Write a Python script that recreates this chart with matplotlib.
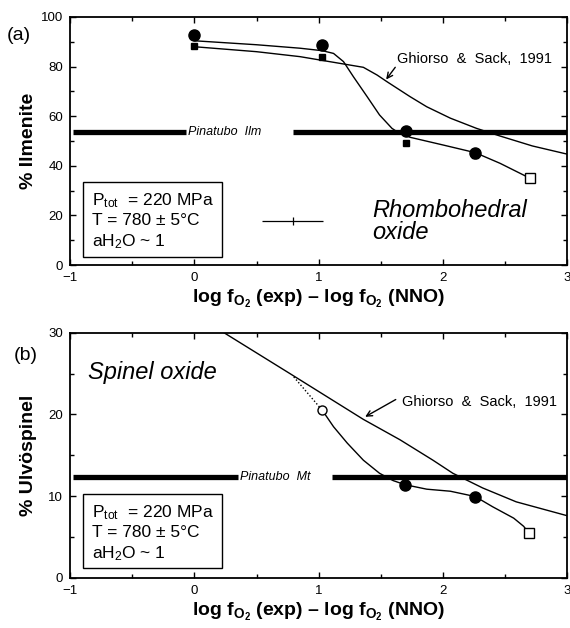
import matplotlib
matplotlib.use("Agg")
import matplotlib.pyplot as plt
from matplotlib.patches import Rectangle
from matplotlib.ticker import MultipleLocator

plt.rcParams["font.family"] = ["Liberation Sans", "DejaVu Sans"]
plt.rcParams["mathtext.fontset"] = "custom"
plt.rcParams["mathtext.rm"] = "Liberation Sans"
plt.rcParams["mathtext.it"] = "Liberation Sans:italic"
plt.rcParams["mathtext.bf"] = "Liberation Sans:bold"

# (a) ilmenite
ilm_circ_x = [0.0, 1.03, 1.70, 2.26]
ilm_circ_y = [92.7, 88.7, 54.0, 45.3]
ilm_sq_x = [0.0, 1.03, 1.70, 2.26]
ilm_sq_y = [88.3, 83.7, 49.3, 44.5]
ilm_open_x = [2.70]
ilm_open_y = [35.0]
ilm_curve_x = [0.0, 0.5, 0.85, 1.03, 1.12, 1.20, 1.28, 1.39, 1.49, 1.59, 1.65, 1.70, 1.735,
               2.0, 2.26, 2.46, 2.70]
ilm_curve_y = [90.4, 88.8, 87.4, 86.4, 85.3, 82.0, 75.9, 67.9, 60.5, 55.1, 53.1, 52.4, 51.5,
               48.4, 45.3, 41.0, 35.0]
ilm_gs_x = [0.0, 0.5, 0.85, 1.17, 1.36, 1.47, 1.55, 1.735, 1.87, 2.06, 2.27, 2.46, 2.72, 3.0]
ilm_gs_y = [88.0, 86.0, 84.0, 81.3, 79.7, 76.6, 73.9, 67.9, 63.8, 59.2, 55.1, 52.0, 48.0, 44.7]
pin_ilm = 53.8
err_x, err_y, err_dx = 0.79, 17.7, 0.245

# (b) ulvospinel
usp_circ_x = [1.695, 2.26]
usp_circ_y = [11.4, 9.95]
usp_ocirc_x = [1.03]
usp_ocirc_y = [20.5]
usp_open_x = [2.69]
usp_open_y = [5.5]
usp_dot_x = [0.80, 1.03]
usp_dot_y = [24.6, 20.5]
usp_curve_x = [1.03, 1.12, 1.23, 1.36, 1.49, 1.60, 1.695, 1.87, 2.06, 2.26, 2.40, 2.57, 2.65, 2.69]
usp_curve_y = [20.5, 18.5, 16.5, 14.4, 12.8, 11.9, 11.4, 10.85, 10.6, 9.95, 8.7, 7.3, 6.3, 5.5]
usp_gs_x = [0.24, 0.77, 1.36, 1.655, 1.92, 2.08, 2.32, 2.59, 3.0]
usp_gs_y = [30.0, 25.0, 19.4, 16.9, 14.4, 12.8, 11.0, 9.3, 7.6]
pin_mt = 12.4

xlab = r"log f$_{\mathbf{O}_{\mathbf{2}}}$ (exp) – log f$_{\mathbf{O}_{\mathbf{2}}}$ (NNO)"
box_lines = [r"P$_{\rm tot}$  = 220 MPa", "T = 780 ± 5°C", r"aH$_2$O ~ 1"]

fig = plt.figure(figsize=(5.7, 6.28), dpi=100)
ax1 = fig.add_axes([0.123, 0.578, 0.872, 0.395])
ax2 = fig.add_axes([0.123, 0.080, 0.872, 0.390])


def style(ax, ymax, ymaj, ymin):
    ax.set_xlim(-1, 3)
    ax.set_ylim(0, ymax)
    ax.xaxis.set_major_locator(MultipleLocator(1))
    ax.xaxis.set_minor_locator(MultipleLocator(0.5))
    ax.yaxis.set_major_locator(MultipleLocator(ymaj))
    ax.yaxis.set_minor_locator(MultipleLocator(ymin))
    ax.tick_params(which="both", direction="in", top=True, right=True,
                   labelsize=9.5, width=1.0)
    ax.tick_params(which="major", length=4, pad=5)
    ax.tick_params(which="minor", length=3)
    for s in ax.spines.values():
        s.set_linewidth(1.3)
    ax.set_xlabel(xlab, fontsize=14, fontweight="bold", labelpad=3)


def info_box(ax, x0, y0, x1, y1, ty):
    ax.add_patch(Rectangle((x0, y0), x1 - x0, y1 - y0, fill=False,
                           lw=1.0, ec="black", zorder=4))
    for t, y in zip(box_lines, ty):
        ax.text(-0.82, y, t, fontsize=12.5, va="center", ha="left")


# ---- (a)
style(ax1, 100, 20, 10)
ax1.plot([-0.98, -0.07], [pin_ilm, pin_ilm], color="black", lw=3.8, solid_capstyle="butt")
ax1.plot([0.79, 3.0], [pin_ilm, pin_ilm], color="black", lw=3.8, solid_capstyle="butt")
ax1.text(-0.05, pin_ilm, "Pinatubo  Ilm", fontsize=9, style="italic", va="center", ha="left")
ax1.plot(ilm_curve_x, ilm_curve_y, color="black", lw=1.0)
ax1.plot(ilm_gs_x, ilm_gs_y, color="black", lw=1.0)
ax1.plot(ilm_circ_x, ilm_circ_y, "o", color="black", ms=8)
ax1.plot(ilm_sq_x, ilm_sq_y, "s", color="black", ms=4.5)
ax1.plot(ilm_open_x, ilm_open_y, "s", mfc="white", mec="black", ms=7, mew=1.0)
ax1.errorbar([err_x], [err_y], xerr=[err_dx], fmt="none", ecolor="black",
             elinewidth=0.9, capsize=0)
ax1.plot([err_x], [err_y], "|", color="black", ms=6, mew=0.9)
ax1.text(1.63, 83, "Ghiorso  &  Sack,  1991", fontsize=10.5, va="center", ha="left")
ax1.annotate("", xy=(1.53, 73.9), xytext=(1.63, 80.6),
             arrowprops=dict(arrowstyle="->", color="black", lw=1.0))
ax1.text(1.43, 17.5, "Rhombohedral\noxide", fontsize=17, style="italic",
         va="center", ha="left", linespacing=0.95)
info_box(ax1, -0.9, 3.2, 0.225, 33.5, [26.0, 18.0, 9.5])
ax1.set_ylabel("% Ilmenite", fontsize=14, fontweight="bold")
ax1.yaxis.set_label_coords(-0.066, 0.5)

# ---- (b)
style(ax2, 30, 10, 5)
ax2.plot([-0.98, 0.35], [pin_mt, pin_mt], color="black", lw=3.8, solid_capstyle="butt")
ax2.plot([1.11, 3.0], [pin_mt, pin_mt], color="black", lw=3.8, solid_capstyle="butt")
ax2.text(0.37, pin_mt, "Pinatubo  Mt", fontsize=9, style="italic", va="center", ha="left")
ax2.plot(usp_gs_x, usp_gs_y, color="black", lw=1.0)
ax2.plot(usp_dot_x, usp_dot_y, color="black", lw=1.0, ls=(0, (1, 1.5)))
ax2.plot(usp_curve_x, usp_curve_y, color="black", lw=1.0)
ax2.plot(usp_circ_x, usp_circ_y, "o", color="black", ms=8)
ax2.plot(usp_ocirc_x, usp_ocirc_y, "o", mfc="white", mec="black", ms=6.5, mew=1.0)
ax2.plot(usp_open_x, usp_open_y, "s", mfc="white", mec="black", ms=7, mew=1.0)
ax2.text(1.67, 21.5, "Ghiorso  &  Sack,  1991", fontsize=10.5, va="center", ha="left")
ax2.annotate("", xy=(1.355, 19.55), xytext=(1.64, 22.0),
             arrowprops=dict(arrowstyle="->", color="black", lw=1.0))
ax2.text(-0.86, 25.1, "Spinel oxide", fontsize=17, style="italic", va="center", ha="left")
info_box(ax2, -0.9, 1.2, 0.225, 10.2, [8.0, 5.5, 3.0])
ax2.set_ylabel("% Ulvöspinel", fontsize=14, fontweight="bold")
ax2.yaxis.set_label_coords(-0.066, 0.5)

fig.text(0.012, 1 - 35 / 628, "(a)", fontsize=14, va="center", ha="left")
fig.text(0.024, 1 - 355 / 628, "(b)", fontsize=14, va="center", ha="left")

plt.savefig("out.png", dpi=100)
